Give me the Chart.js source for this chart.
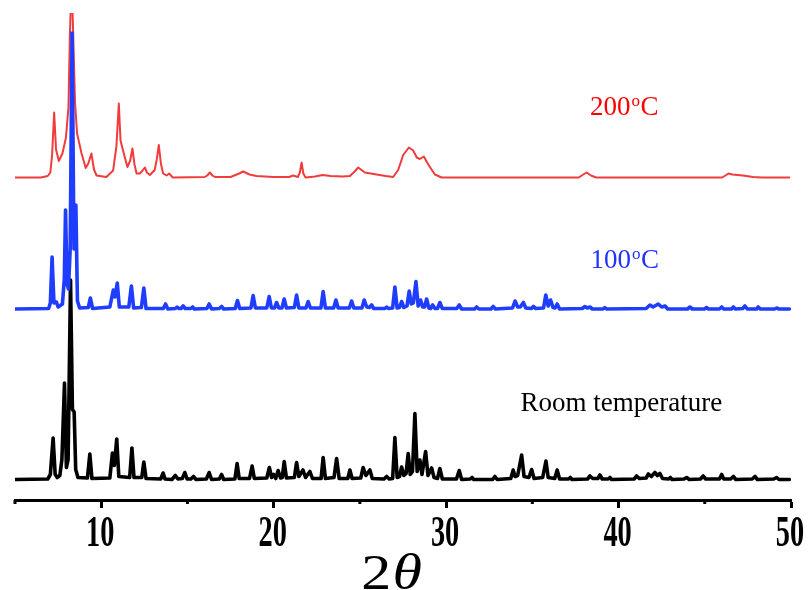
<!DOCTYPE html>
<html>
<head>
<meta charset="utf-8">
<script src="https://cdn.jsdelivr.net/npm/chart.js@4.4.1/dist/chart.umd.min.js"></script>
<style>
  html, body { margin: 0; padding: 0; background: #fff; }
  #wrap { width: 809px; height: 590px; }
</style>
</head>
<body>
<div id="wrap"><canvas id="c" width="809" height="590"></canvas></div>
<script>
// ---- Data (2θ in degrees, intensity in arbitrary units above each trace's baseline) ----
const xMin = 5, xMax = 50;
const xTickValues = [10, 20, 30, 40, 50];
const xMinorTickValues = [5, 15, 25, 35, 45];

// Room temperature (black)
const rtX = [5.0, 6.9, 7.05, 7.21, 7.33, 7.45, 7.6, 7.72, 7.87, 7.98, 8.08, 8.22, 8.33, 8.43, 8.52, 8.65,
  9.2, 9.34, 9.46, 10.5, 10.65, 10.76, 10.9, 11.02, 11.65, 11.78, 11.9, 12.35, 12.47, 12.6,
  13.45, 13.59, 13.7, 14.1, 14.3, 14.45, 14.7, 14.85, 14.98, 15.2, 15.35, 15.5, 16.1, 16.26, 16.4,
  16.85, 16.98, 17.1, 17.75, 17.88, 18.0, 18.6, 18.75, 18.88, 19.6, 19.75, 19.88, 20.0, 20.12,
  20.26, 20.4, 20.5, 20.61, 20.74, 21.2, 21.33, 21.46, 21.7, 21.85, 22.1, 22.25, 22.75, 22.87, 23.0,
  23.5, 23.65, 23.8, 24.3, 24.42, 24.55, 25.05, 25.19, 25.35, 25.58, 25.72, 26.4, 26.55, 26.7,
  26.9, 27.03, 27.16, 27.3, 27.42, 27.55, 27.68, 27.8, 27.92, 28.05, 28.19, 28.32, 28.48, 28.6,
  28.81, 28.95, 29.16, 29.3, 29.5, 29.64, 29.78, 30.6, 30.76, 30.9, 31.4, 31.5, 31.6, 32.7, 32.83,
  32.96, 33.75, 33.89, 34.0, 34.15, 34.38, 34.52, 34.8, 34.96, 35.1, 35.6, 35.79, 35.92, 36.3,
  36.44, 36.58, 37.1, 37.2, 37.3, 38.2, 38.34, 38.5, 38.8, 38.92, 39.05, 39.4, 39.5, 39.6, 40.9,
  41.05, 41.2, 41.6, 41.73, 41.9, 42.11, 42.25, 42.4, 42.55, 42.9, 43.0, 43.1, 43.8, 43.95, 44.1,
  44.75, 44.91, 45.05, 45.85, 45.98, 46.1, 46.5, 46.66, 46.8, 47.75, 47.91, 48.05, 49.0, 49.17,
  49.3, 49.9];
const rtY = [0, 0.5, 5, 41.5, 5, 2, 4, 20, 96.5, 12, 20, 199.5, 70, 67.5, 10, 2,
  1.5, 25.5, 1, 1.5, 26.5, 14, 40.5, 3, 2, 31.5, 2, 2, 17.5, 1,
  0.5, 6.5, 0.5, 0, 4, 0.5, 1, 7, 0.5, 0.5, 3, 0, 0.5, 7, 0,
  0.5, 5, 0, 0.5, 16, 1, 1, 13.5, 1, 1.5, 12, 2, 5, 1,
  9, 1.5, 2, 18, 1.5, 2, 17, 3, 9.5, 2, 8, 1, 1, 22, 1,
  2, 21, 1, 1, 9.5, 1, 1.5, 12, 4, 9.5, 1, 0.5, 3, 0.5,
  1, 42, 2, 3, 12.5, 4, 6, 26, 5, 8, 66, 8, 19.5, 5,
  28, 4, 11.5, 2, 1, 11, 0.5, 0.5, 9, 0, 0.5, 2, 0, 0, 3,
  0, 1, 9.5, 3, 4, 24.5, 3, 2, 10, 1, 2, 18.5, 2, 1,
  9.5, 0.5, 0.5, 2, 0, 0.5, 3.5, 1, 1, 4.5, 0.5, 0.5, 2, 0, 0.5,
  3.5, 1, 1.5, 5.5, 3, 7, 4, 6, 1, 0.5, 2, 0, 0.5, 2, 0,
  0.5, 3.5, 0.5, 0.5, 5, 0.5, 0.5, 3, 0, 0.5, 3, 0, 0.5, 2,
  0, 0];

// 100 °C (blue)
const t100X = [5.0, 6.95, 7.05, 7.15, 7.26, 7.4, 7.5, 7.75, 7.86, 7.93, 8.02, 8.1, 8.2, 8.31, 8.42, 8.53, 8.62, 8.75,
  9.25, 9.37, 9.5, 10.5, 10.7, 10.8, 10.93, 11.05, 11.6, 11.75, 11.88, 12.33, 12.47, 12.6,
  13.6, 13.73, 13.86, 14.3, 14.4, 14.5, 14.63, 14.75, 14.87, 15.2, 15.3, 15.4, 16.13, 16.26, 16.4,
  16.85, 16.98, 17.1, 17.77, 17.9, 18.03, 18.68, 18.81, 18.94, 19.6, 19.74, 19.87, 20.05, 20.17, 20.3,
  20.48, 20.61, 20.74, 21.2, 21.33, 21.46, 21.87, 22.0, 22.13, 22.74, 22.87, 23.0, 23.48, 23.61, 23.74,
  24.39, 24.52, 24.65, 25.12, 25.25, 25.4, 25.55, 25.68, 25.8, 26.45, 26.55, 26.65, 26.9, 27.03, 27.16,
  27.3, 27.42, 27.55, 27.73, 27.86, 27.98, 28.1, 28.25, 28.38, 28.52, 28.64, 28.75, 28.87, 29.0,
  29.1, 29.22, 29.35, 29.5, 29.64, 29.78, 30.62, 30.76, 30.9, 31.65, 31.77, 31.9, 32.6, 32.73, 32.86,
  33.85, 34.0, 34.15, 34.3, 34.48, 34.62, 34.95, 35.06, 35.2, 35.65, 35.78, 35.92, 36.06, 36.2, 36.32,
  36.44, 36.58, 37.9, 38.05, 38.18, 38.34, 38.48, 39.1, 39.2, 39.3, 41.6, 41.82, 42.0, 42.3, 42.5,
  42.7, 42.85, 44.0, 44.14, 44.28, 44.98, 45.1, 45.22, 45.85, 45.98, 46.1, 46.55, 46.66, 46.78,
  47.2, 47.33, 47.46, 48.0, 48.1, 48.22, 49.05, 49.17, 49.3, 49.9];
const t100Y = [0, 0.5, 6, 52, 6, 7, 2, 5, 30, 99, 25, 20, 60, 276, 60, 104, 8, 1,
  1.5, 11, 0.5, 2, 19, 12, 26, 2, 2, 23, 1, 1.5, 21, 0.5,
  0.5, 5, 0, 0.5, 2, 0.5, 0.5, 3, 0.5, 0.5, 2, 0, 0.5, 5, 0,
  0.5, 2.5, 0, 0.5, 8.5, 0.5, 1, 13.5, 1, 1, 12.5, 1, 1, 6.5, 1,
  1, 10, 1, 1.5, 14, 1, 1, 7.5, 1, 1, 17.5, 1, 1, 9, 1,
  1, 8, 1, 1, 9, 2, 1.5, 4, 0.5, 0.5, 2, 0.5, 1, 22, 1,
  1.5, 7.5, 1.5, 3, 18, 5, 6, 27.5, 3, 9, 2, 2, 10, 1,
  0.5, 4, 0.5, 0.5, 6.5, 0.5, 0.5, 4, 0, 0, 2, 0, 0, 2.5, 0,
  1, 8, 2, 2, 6.5, 1, 0.5, 2.5, 0.5, 1, 14, 3, 9, 1.5, 1,
  5, 0, 0.5, 2.5, 1, 2, 0, 0, 1.5, 0, 0.5, 4, 2, 5, 2,
  3, 0, 0, 2, 0, 0, 1.5, 0, 0, 2, 0, 0, 2, 0,
  0.5, 3, 0, 0, 2, 0, 0, 1, 0, 0];

// 200 °C (red)
const t200X = [5.0, 6.5, 6.9, 7.05, 7.15, 7.27, 7.38, 7.54, 7.75, 7.95, 8.1, 8.18, 8.28, 8.38, 8.48, 8.6, 8.86,
  9.1, 9.25, 9.43, 9.58, 9.73, 10.3, 10.69, 10.88, 11.02, 11.12, 11.31, 11.52, 11.68, 11.81, 11.93,
  12.05, 12.24, 12.4, 12.53, 12.65, 12.82, 13.1, 13.22, 13.34, 13.46, 13.59, 13.79, 13.94, 14.15,
  16.0, 16.15, 16.3, 16.45, 16.6, 17.5, 18.0, 18.23, 18.6, 19.0, 20.0, 20.9, 21.13, 21.4, 21.52,
  21.62, 21.72, 21.85, 22.4, 22.83, 23.3, 24.0, 24.42, 24.7, 24.9, 25.29, 25.97, 26.5, 26.93,
  27.22, 27.51, 27.84, 28.09, 28.3, 28.48, 28.71, 28.9, 29.06, 29.35, 29.74, 37.7, 37.95, 38.15,
  38.4, 38.7, 46.0, 46.2, 46.37, 46.6, 47.2, 47.8, 48.3, 49.9];
const t200Y = [0, 0, 1.5, 5, 22, 65, 28, 16.5, 24, 39.5, 70, 140, 200, 140, 75, 44, 24,
  9.5, 14, 24, 8, 2, 0.5, 7, 31, 74, 37, 24, 10.5, 17, 29, 13,
  4, 4, 7, 10, 5, 2.5, 7.5, 18, 32.5, 14, 4, 2, 4, 0,
  0.5, 2, 5, 2, 0.5, 0.5, 4, 6, 3, 1.5, 0.5, 0.5, 2, 0.5, 5,
  15, 4, 0, 1, 2.5, 1.5, 1, 1.5, 6, 10, 5, 3, 1.5, 0.5,
  7.5, 22.5, 30, 27, 20, 18.5, 21, 15, 10.5, 3, 0, 0, 3, 5,
  2, 0, 0, 2, 4, 3, 2, 0.5, 0, 0];

// Vertical stacking offsets of each pattern (same units as intensity)
const rtOffset = 20.5, t100Offset = 191, t200Offset = 322.5;
const yMin = 0, yMax = 487;

const seriesLabels = ['Room temperature', '100', '200'];
const axisTitle = ['2', 'θ'];

function toPoints(xs, ys, off) { return xs.map((x, i) => ({ x: x, y: ys[i] + off })); }

const serif = "'Liberation Serif', 'Times New Roman', serif";

const annotations = {
  id: 'annotations',
  afterDraw(chart) {
    const ctx = chart.ctx;
    const xs = chart.scales.x, ys = chart.scales.y;
    ctx.save();
    // minor ticks
    ctx.strokeStyle = '#000';
    ctx.lineWidth = 3;
    xMinorTickValues.forEach(v => {
      const px = xs.getPixelForValue(v);
      ctx.beginPath();
      ctx.moveTo(px, xs.top);
      ctx.lineTo(px, xs.top + 4);
      ctx.stroke();
    });
    // tick labels (tall, bold serif as in the original)
    ctx.fillStyle = '#000';
    ctx.textAlign = 'center';
    ctx.textBaseline = 'alphabetic';
    xs.ticks.forEach(t => {
      const px = xs.getPixelForValue(t.value);
      ctx.save();
      ctx.translate(px - 1, xs.top + 46);
      ctx.scale(1.05, 1.62);
      ctx.font = 'bold 27px ' + serif;
      ctx.fillText(String(t.value), 0, 0);
      ctx.restore();
    });
    // degree labels
    function degLabel(num, xv, yv, color) {
      let px = xs.getPixelForValue(xv), py = ys.getPixelForValue(yv);
      ctx.fillStyle = color;
      ctx.textBaseline = 'alphabetic';
      ctx.textAlign = 'left';
      ctx.font = '27px ' + serif;
      ctx.fillText(num, px, py);
      px += ctx.measureText(num).width + 1;
      ctx.font = '17px ' + serif;
      ctx.fillText('o', px, py - 9);
      px += ctx.measureText('o').width + 0.5;
      ctx.font = '27px ' + serif;
      ctx.fillText('C', px, py);
    }
    degLabel(seriesLabels[2], 38.34, 500 - 115, '#ff0000');
    degLabel(seriesLabels[1], 38.38, 500 - 268, '#2233ff');
    ctx.fillStyle = '#000';
    ctx.font = '27px ' + serif;
    ctx.textAlign = 'left';
    ctx.fillText(seriesLabels[0], xs.getPixelForValue(34.32), ys.getPixelForValue(500 - 411));
    // axis title 2θ
    const cx = 391;
    const fs = 50;
    ctx.fillStyle = '#000';
    ctx.font = fs + 'px ' + serif;
    const w2 = ctx.measureText(axisTitle[0]).width;
    ctx.font = 'italic ' + fs + 'px ' + serif;
    const wt = ctx.measureText(axisTitle[1]).width;
    ctx.save();
    ctx.translate(cx, 589);
    ctx.scale(1.2, 1);
    const sx = -(w2 + wt) / 2;
    ctx.textAlign = 'left';
    ctx.font = fs + 'px ' + serif;
    ctx.fillText(axisTitle[0], sx, 0);
    ctx.font = 'italic ' + fs + 'px ' + serif;
    ctx.fillText(axisTitle[1], sx + w2 + 1, 0);
    ctx.restore();
    ctx.restore();
  }
};

new Chart(document.getElementById('c'), {
  type: 'line',
  data: {
    datasets: [
      { label: '100 °C', data: toPoints(t100X, t100Y, t100Offset), borderColor: '#1f3dff', borderWidth: 3.6, order: 0 },
      { label: 'Room temperature', data: toPoints(rtX, rtY, rtOffset), borderColor: '#000000', borderWidth: 3.6, order: 1 },
      { label: '200 °C', data: toPoints(t200X, t200Y, t200Offset), borderColor: '#f03c3c', borderWidth: 2, order: 2 }
    ]
  },
  options: {
    responsive: false,
    animation: false,
    devicePixelRatio: 1,
    elements: {
      point: { radius: 0 },
      line: { tension: 0, borderJoinStyle: 'round', borderCapStyle: 'round', fill: false }
    },
    layout: { padding: { top: 13, left: 15, right: 18, bottom: 82 } },
    plugins: { legend: { display: false }, tooltip: { enabled: false }, title: { display: false } },
    scales: {
      x: {
        type: 'linear', min: xMin, max: xMax,
        afterBuildTicks: (s) => { s.ticks = xTickValues.map(v => ({ value: v })); },
        border: { display: true, width: 3, color: '#000' },
        grid: { drawOnChartArea: false, drawTicks: true, tickLength: 8, tickWidth: 3, tickColor: '#000' },
        ticks: { display: false }
      },
      y: { type: 'linear', min: yMin, max: yMax, display: false }
    }
  },
  plugins: [annotations]
});
</script>
</body>
</html>
